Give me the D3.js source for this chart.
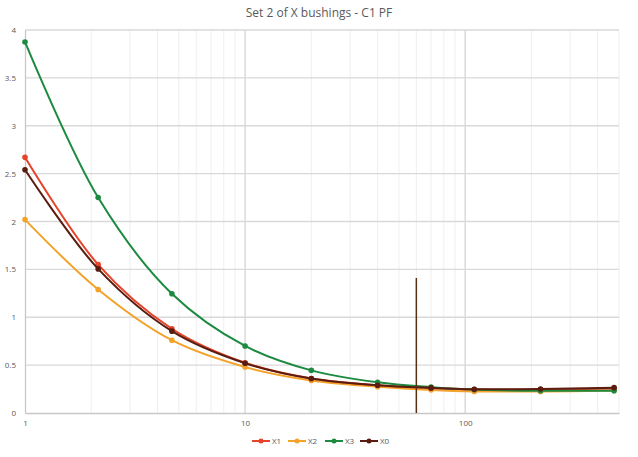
<!DOCTYPE html>
<html>
<head>
<meta charset="utf-8">
<script src="https://cdn.jsdelivr.net/npm/d3@7"></script>
<style>
  body { margin: 0; background: #fff; }
  text { font-family: "Open Sans", "Liberation Sans", sans-serif; fill: #595959; }
</style>
</head>
<body>
<svg id="chart" width="638" height="457"></svg>
<script>
// Data
const freqs = [1, 2.15, 4.65, 10, 20, 40, 70, 110, 220, 475];
const seriesNames = ["X1", "X2", "X3", "X0"];
const x1Values = [2.67, 1.55, 0.88, 0.525, 0.36, 0.29, 0.26, 0.245, 0.245, 0.255];
const x2Values = [2.02, 1.29, 0.76, 0.48, 0.34, 0.275, 0.24, 0.225, 0.225, 0.235];
const x3Values = [3.875, 2.25, 1.245, 0.70, 0.445, 0.32, 0.27, 0.245, 0.232, 0.233];
const x0Values = [2.54, 1.505, 0.855, 0.52, 0.36, 0.29, 0.262, 0.248, 0.25, 0.265];
const seriesColors = ["#e5432a", "#f3a22a", "#1c8a40", "#5a1c0e"];
const yTicks = [0, 0.5, 1, 1.5, 2, 2.5, 3, 3.5, 4];
const xTicks = [1, 10, 100];
const markerFreq = 60;
const markerTop = 1.41;

const svg = d3.select("#chart"),
    width = +svg.attr("width"),
    height = +svg.attr("height");

const margin = {left: 25, right: 19, top: 30, bottom: 44};

const x = d3.scaleLog()
    .domain([1, 500])
    .range([margin.left, width - margin.right]);
const y = d3.scaleLinear()
    .domain([0, 4])
    .range([height - margin.bottom, margin.top]);

// Gridlines
const minorTicks = [];
[1, 10, 100].forEach(d => {
    for (let k = 2; k <= 9; k++) {
        if (d * k <= 500) minorTicks.push(d * k);
    }
});
svg.append("g")
    .selectAll("line")
    .data(minorTicks)
    .enter()
    .append("line")
    .attr("x1", d => x(d)).attr("x2", d => x(d))
    .attr("y1", y(4)).attr("y2", y(0))
    .style("stroke", "#efefef")
    .style("stroke-width", 1);

svg.append("g")
    .selectAll("line")
    .data(xTicks.slice(1))
    .enter()
    .append("line")
    .attr("x1", d => x(d)).attr("x2", d => x(d))
    .attr("y1", y(4)).attr("y2", y(0))
    .style("stroke", "#d4d4d4")
    .style("stroke-width", 1.3);

svg.append("g")
    .selectAll("line")
    .data(yTicks.slice(1))
    .enter()
    .append("line")
    .attr("x1", x(1)).attr("x2", x(500))
    .attr("y1", d => y(d)).attr("y2", d => y(d))
    .style("stroke", "#d9d9d9")
    .style("stroke-width", 1.3);

// Axes
const yAxis = d3.axisLeft(y).tickValues(yTicks).tickSize(0).tickPadding(9).tickFormat(d => d);
svg.append("g")
    .attr("transform", `translate(${margin.left},0)`)
    .call(yAxis)
    .call(g => g.select(".domain").style("stroke", "#c8c8c8").style("stroke-width", 1.3))
    .call(g => g.selectAll("text").style("font-size", "8px"));

const xAxis = d3.axisBottom(x).tickValues(xTicks).tickSize(0).tickPadding(7).tickFormat(d3.format("d"));
svg.append("g")
    .attr("transform", `translate(0,${y(0)})`)
    .call(xAxis)
    .call(g => g.select(".domain").style("stroke", "#c8c8c8").style("stroke-width", 1.3))
    .call(g => g.selectAll("text").style("font-size", "8px"));

// Series
const allValues = [x1Values, x2Values, x3Values, x0Values];
const line = d3.line()
    .x((d, i) => x(freqs[i]))
    .y(d => y(d))
    .curve(d3.curveCatmullRom.alpha(0.5));

// draw order: X2, X1, X3, X0 on top
[1, 0, 2, 3].forEach(s => {
    const g = svg.append("g");
    g.append("path")
        .datum(allValues[s])
        .attr("d", line)
        .style("fill", "none")
        .style("stroke", seriesColors[s])
        .style("stroke-width", 2);
    g.selectAll("circle")
        .data(allValues[s])
        .enter()
        .append("circle")
        .attr("cx", (d, i) => x(freqs[i]))
        .attr("cy", d => y(d))
        .attr("r", 2.8)
        .style("fill", seriesColors[s]);
});

// 60 Hz marker line
svg.append("line")
    .attr("x1", x(markerFreq)).attr("x2", x(markerFreq))
    .attr("y1", y(markerTop)).attr("y2", y(0))
    .style("stroke", "#5a2e12")
    .style("stroke-width", 1.5);

// Title
svg.append("text")
    .attr("x", width / 2)
    .attr("y", 17)
    .attr("text-anchor", "middle")
    .style("font-size", "12px")
    .text("Set 2 of X bushings - C1 PF");

// Legend
const legendX = [252, 288, 325, 360];
const legend = svg.append("g");
seriesNames.forEach((name, i) => {
    const lx = legendX[i], ly = 441;
    legend.append("line")
        .attr("x1", lx).attr("x2", lx + 18)
        .attr("y1", ly).attr("y2", ly)
        .style("stroke", seriesColors[i])
        .style("stroke-width", 2);
    legend.append("circle")
        .attr("cx", lx + 9).attr("cy", ly)
        .attr("r", 2.5)
        .style("fill", seriesColors[i]);
    legend.append("text")
        .attr("x", lx + 20)
        .attr("y", ly + 3)
        .style("font-size", "8px")
        .text(name);
});
</script>
</body>
</html>
